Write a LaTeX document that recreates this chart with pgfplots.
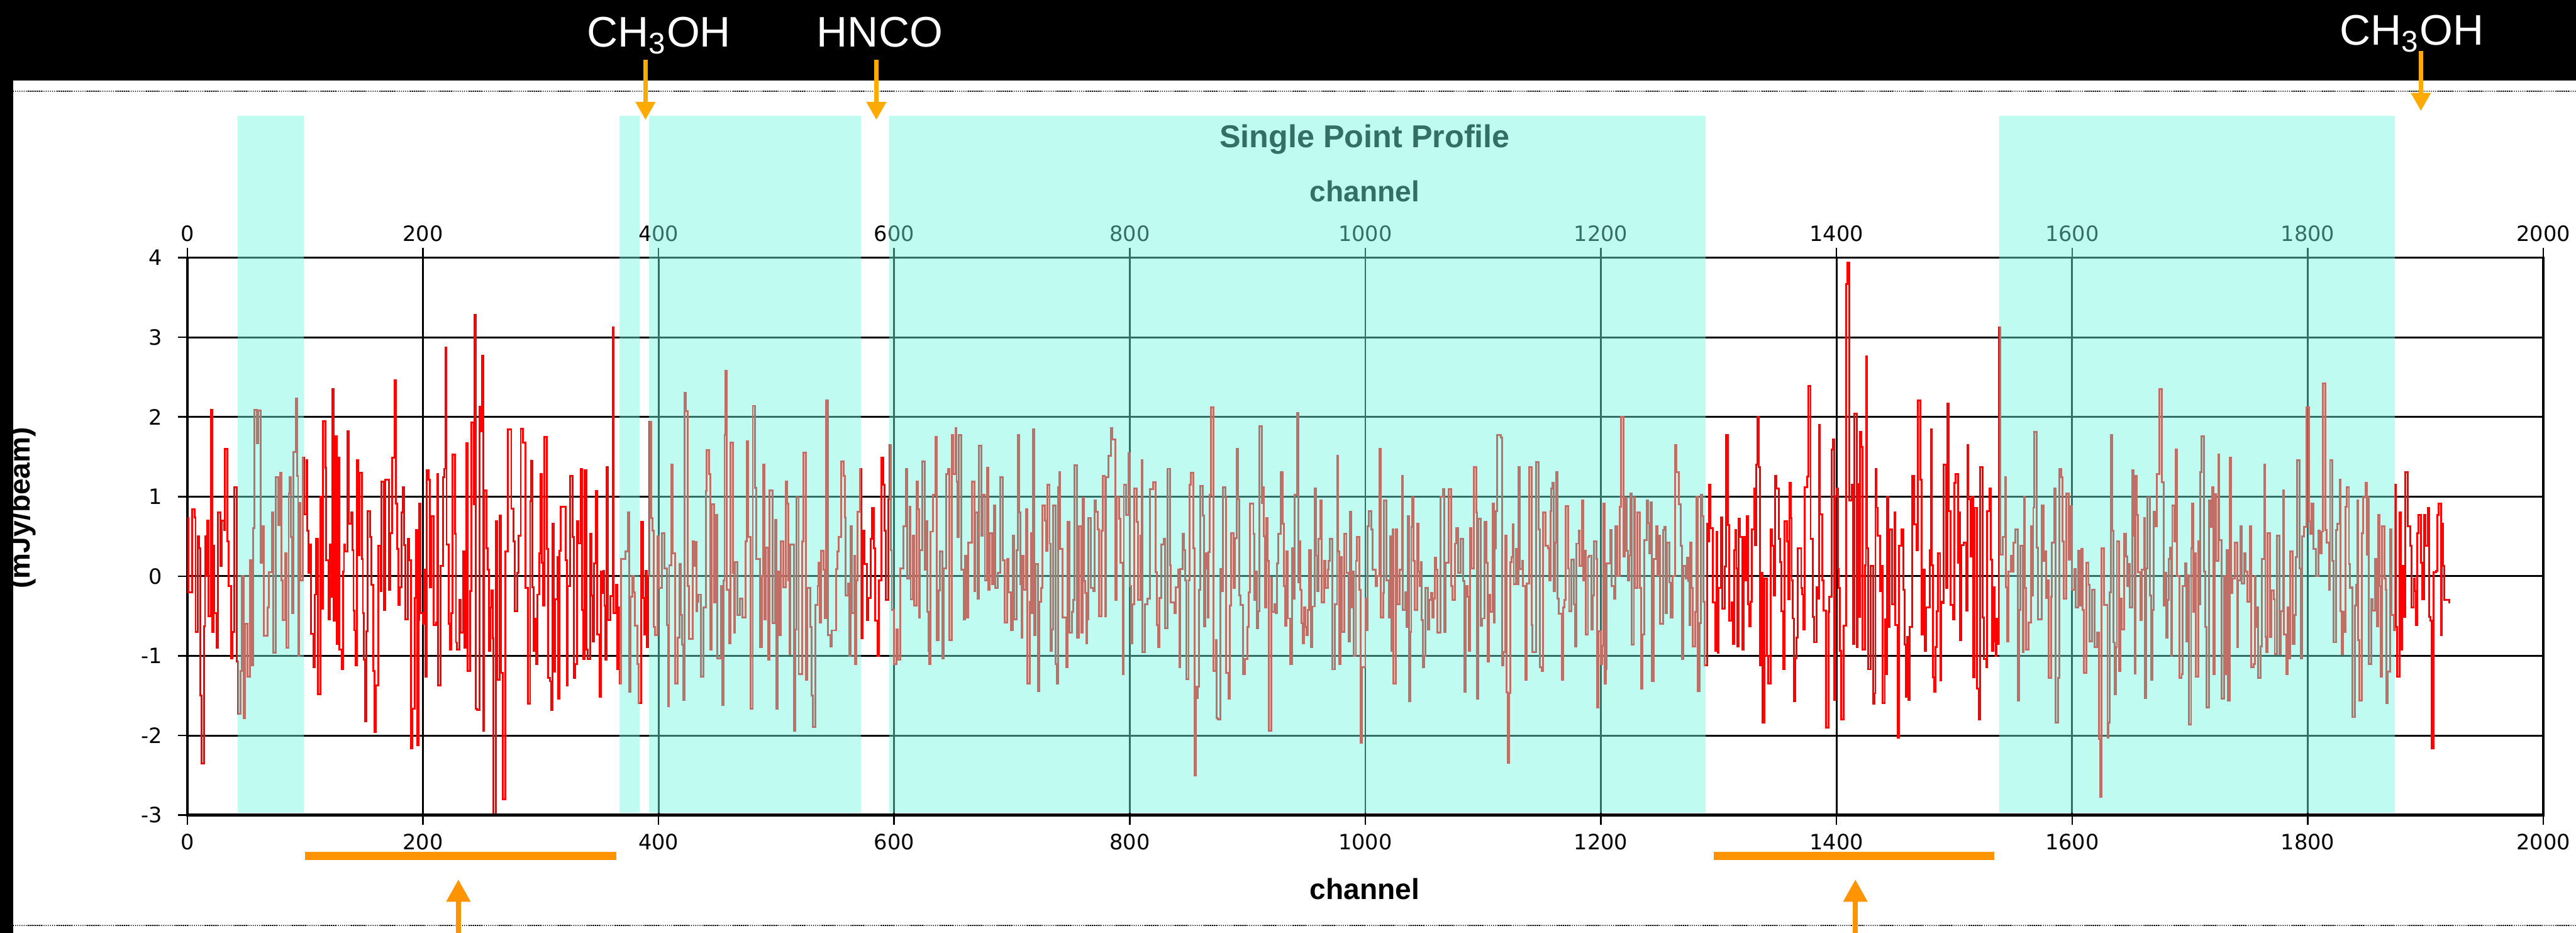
\documentclass[border=0pt]{standalone}
\usepackage{fontspec}
\setmainfont{DejaVu Sans}
\newfontfamily\lib{Liberation Sans}
\usepackage{pgfplots}
\pgfplotsset{compat=1.18}
\usetikzlibrary{arrows.meta}
\definecolor{ovl}{RGB}{115,248,226}
\definecolor{amber}{RGB}{255,170,0}
\definecolor{orng}{RGB}{255,148,0}
\begin{document}
\begin{tikzpicture}[x=1pt,y=1pt]
\useasboundingbox (0,0) rectangle (976.2,353.4);
\fill[white] (0,0) rectangle (976.2,353.4);
\begin{axis}[
  at={(71pt,44.6pt)}, anchor=south west, scale only axis,
  width=892.8pt, height=211.2pt,
  xmin=0, xmax=2000, ymin=-3, ymax=4,
  xtick={0,200,...,2000},
  xticklabels={0,200,400,600,800,1000,1200,1400,1600,1800,2000},
  ytick={-3,-2,...,4},
  yticklabels={-3,-2,-1,0,1,2,3,4},
  xtick pos=both, ytick pos=left,
  tick align=outside, major tick length=3.6pt,
  every tick/.style={black, line width=0.6pt},
  grid=major, major grid style={black, line width=0.7pt},
  axis line style={black, line width=0.9pt},
  tick label style={font=\fontsize{8}{9.6}\selectfont, text=black},
  yticklabel style={xshift=-2.5pt},
]
\addplot[const plot, red, line width=0.7pt] coordinates {
(0,0.73)(1,-0.2)(4,0.84)(6,0.74)(7,-0.7)(9,0.5)(10,0.35)(11,-1.5)(12,-2.35)(14,-0.63)(15,0.5)(16,0)(17,0.7)(18,-0.5)(20,2.09)(21,-0.7)(22,0.38)(23,-0.46)(25,-0.9)(26,0.8)(28,0.13)(29,0.7)(31,0.58)(32,1.6)(34,0.44)(35,-0.12)(37,-1.03)(38,-0.7)(40,1.12)(42,-1.07)(43,-1.73)(45,-1.19)(46,0)(48,-1.78)(49,-0.6)(51,-1.26)(53,0.2)(54,-1.12)(56,0.6)(57,2.09)(59,1.67)(60,2.08)(62,0.17)(64,0.63)(65,-0.75)(68,-0.39)(69,0.05)(72,0.8)(73,-0.96)(75,1.24)(77,0.64)(79,1.3)(80,-0.05)(81,-0.55)(83,0.29)(84,-0.9)(86,1.04)(87,1.24)(88,0.49)(89,-0.46)(90,1.56)(92,2.23)(93,1.26)(94,-1)(95,0.92)(96,-0.05)(98,1.49)(99,0.78)
(101,1.46)(102,0.57)(103,0.04)(104,0.4)(105,-0.72)(107,-1.14)(108,-0.23)(109,0.47)(111,-1.48)(113,1)(114,-0.41)(115,1.95)(117,1.36)(118,0.2)(120,-0.54)(121,0.4)(122,-0.26)(123,2.35)(124,-0.56)(126,1.76)(127,-0.85)(128,1.49)(129,-0.92)(131,-1.17)(132,0.06)(133,0.4)(134,0.31)(136,1.82)(137,0.66)(139,0.8)(140,0.33)(141,-0.43)(142,-0.68)(143,-1.12)(144,1.46)(145,0.26)(146,1.3)(148,0.22)(149,-0.46)(150,-1.05)(151,-1.82)(152,-0.69)(153,0.82)(155,0.49)(156,-0.11)(158,-1.19)(159,-1.96)(160,-1.37)(162,0.38)(164,-0.19)(165,1.19)(167,-0.42)(168,1.21)(171,-0.17)(172,0.54)(174,1.49)(176,2.46)(177,0.91)(178,0.34)(179,-0.36)(180,-0.14)(182,0.8)(183,1.12)(184,0.39)(185,-0.54)(187,0.47)(188,0.2)(190,-2.16)(191,-1.66)(193,-0.27)(194,0.58)(195,-2.12)(196,-0.55)(197,0.91)(198,-0.46)
(200,-0.6)(201,0.08)(202,-1.26)(203,1.33)(205,1.21)(206,-0.14)(207,0.75)(209,-0.61)(211,-0.58)(212,1.28)(213,-1.37)(215,0.13)(217,1.24)(218,1.35)(219,2.87)(220,0.4)(222,-0.6)(223,-0.92)(224,-0.46)(225,1.53)(227,0.53)(228,-0.83)(229,-0.92)(231,-0.3)(232,-0.71)(234,0.31)(235,-0.9)(237,1.67)(238,-1.19)(240,-0.19)(241,1.93)(243,0.9)(244,3.28)(245,-1.66)(246,-1.68)(248,2.13)(249,1.82)(250,2.77)(251,-1.94)(252,1.08)(254,0.35)(255,0.08)(256,-0.94)(257,-0.39)(258,-0.18)(259,-0.78)(260,-3)(262,0.69)(263,-1.3)(265,0.76)(266,-1.21)(268,-2.8)(270,0.31)(272,1.84)(275,0.85)(277,0.44)(278,-0.44)(280,0.04)(281,0.51)(283,1.85)
(285,1.68)(287,-0.15)(289,-1.6)(291,0.94)(292,1.45)(293,-0.14)(294,-0.94)(295,-0.53)(296,-1.1)(297,-0.23)(299,0.29)(300,1.28)(301,0.17)(302,-0.37)(303,1.75)(305,0.34)(306,-1.28)(308,-1.32)(309,-1.68)(310,0.66)(311,-1.2)(312,-0.29)(314,0.24)(315,-1.54)(316,0.32)(317,0.87)(321,0.2)(322,-1.37)(323,-0.12)(325,1.26)(327,0.49)(328,-1.28)(329,-1.1)(331,0.69)(332,0.41)(334,1.35)(335,-0.42)(336,-1.04)(337,1.33)(339,-0.92)(340,-1.04)(342,0.53)(343,-0.24)(344,-0.82)(345,0.16)(347,1.07)(348,-0.73)(350,-1.51)(351,0.06)(352,-0.21)(353,0.07)(354,-0.37)(355,-1.05)(356,1.37)(357,-0.55)(359,-0.25)(361,3.12)(362,-0.46)(364,-0.11)(365,-1.17)(366,-0.39)(367,-1.35)(368,0.22)(372,0.31)(374,0.8)(375,-1.45)(376,-0.26)(378,0)(379,-0.2)(380,-0.62)(382,-1.1)(383,-1.59)(385,0.68)(387,-0.27)(388,-0.73)(389,0.07)(390,-0.89)(391,0)(392,1.94)(394,0.73)(395,0.57)(396,-0.64)(397,-0.74)(399,0.5)
(400,-0.15)(403,0.54)(405,0.1)(407,-0.61)(408,-1.63)(409,0.14)(411,1.4)(412,0.29)(414,-1.35)(416,-0.77)(418,0.15)(419,-0.49)(420,-0.86)(421,-1.55)(422,2.3)(423,2.07)(425,-0.12)(426,-0.79)(429,0.44)(430,0.13)(431,0.43)(432,-0.44)(433,-0.32)(434,-0.23)(436,-1.26)(438,-0.39)(440,1.07)(441,1.58)(443,1.28)(444,-0.92)(445,0.9)(447,-0.33)(448,0.77)(450,-1.03)(453,-0.12)(454,-1.62)(455,-0.05)(456,1.77)(457,2.58)(458,-0.17)(460,-0.84)(461,1.68)(463,0.04)(464,-0.71)(465,0.18)(467,-0.49)(469,-0.28)(471,-0.52)(474,0.44)(475,1.69)(476,0.49)(478,-1.66)(480,2.14)(482,1.11)(483,0.22)(486,-0.89)(488,0)(489,1.4)(490,-0.54)(491,0.36)(493,-1.05)(494,1.08)(497,-0.59)(499,0.71)(500,-1.66)(501,0.06)(502,-0.74)(504,0.44)(506,-0.14)(508,1.19)(509,0.91)(510,-0.05)(511,-0.98)(512,0.4)(515,-1.94)(516,-0.67)(517,0.99)(519,-1.23)(522,0.44)(523,1.55)(525,-1.3)(526,-0.15)(529,-0.64)(530,-1.5)(531,-1.89)(533,-0.36)(535,-0.12)(536,0.17)(537,-0.58)(538,0.32)(540,0.08)(541,-0.53)(542,2.21)(544,-0.74)(546,-0.88)(547,-0.68)(551,0.09)(552,0.31)(553,0.49)(555,1.44)(557,1.26)(558,0.74)(559,-0.24)(561,-0.09)(562,-1)(563,0.63)(564,-0.46)(566,0.26)(567,-1.1)(568,-0.05)(569,0.81)(571,1.35)
(572,-0.78)(573,0.57)(575,0.15)(577,-0.55)(578,-0.27)(580,0.47)(581,0.86)(583,0.35)(584,-0.56)(586,-1)(587,-0.05)(589,1.49)(591,1.15)(592,0.57)(593,-0.3)(595,0.97)(596,1.65)(597,0.33)(598,-0.42)(600,-1.1)(602,-0.67)(603,-1.05)(605,0.1)(608,0.63)(610,1.35)(611,-0.03)(613,0.87)(614,-0.29)(616,0.51)(617,-0.37)(619,1.19)(620,0.84)(621,-0.52)(622,0.33)(624,1.44)(626,0.08)(627,0.69)(628,-0.45)(629,-0.94)(630,-1.1)(631,0.56)(633,1.02)(635,1.75)(636,-0.8)(638,-0.18)(639,0.31)(641,-1.03)(642,0.1)(644,1.28)(646,1.35)(647,-0.8)(649,1.77)(650,1.28)(652,1.86)(653,1.19)(654,0.49)(655,1.77)(657,0.08)(659,-0.54)(660,0.26)(662,-0.52)(663,0.42)(666,1.19)(668,-0.19)(669,0.8)(671,-0.28)(672,1.64)(674,0.51)(675,1.02)(677,-0.05)(679,1.36)(680,-0.17)(681,0.54)(683,-0.1)(685,0.89)(686,-0.15)(688,0.04)(690,1.24)(692,0.2)(694,-0.58)(696,0.22)(697,-0.2)(699,-0.68)
(701,0.51)(702,-0.54)(704,0.33)(705,1.77)(706,0.8)(707,-0.1)(708,-0.77)(709,0.26)(710,-0.17)(712,0.84)(713,-1.35)(715,-0.32)(716,0.54)(717,-0.46)(718,1.84)(719,-0.74)(720,0.15)(722,-1.44)(723,-0.32)(725,-0.15)(726,0.89)(728,0.7)(729,0.32)(730,1.15)(732,0.41)(733,-0.94)(734,-0.67)(735,0.89)(737,-1.1)(738,-1.35)(739,1.12)(740,1.31)(741,0.34)(743,-0.52)(746,-1.14)(747,0.68)(749,-0.71)(751,-0.45)(752,-0.3)(753,1.39)(755,-0.77)(757,0.63)(759,-0.71)(760,0.98)(761,-0.06)(762,-0.21)(763,-0.84)(764,-0.54)(765,0.73)(767,-0.15)(769,-0.19)(770,0.95)(771,0.81)(773,0.59)(774,-0.5)(776,0.57)(777,1.26)(779,-0.5)(780,1.24)(782,1.51)(784,1.86)(785,1.72)(788,-0.3)(789,0.99)(791,0.72)(792,0.17)(794,-1.23)(795,1.15)(797,0.77)(799,1.54)
(800,-0.12)(801,-0.84)(802,-0.35)(804,1.1)(806,0.68)(807,-0.3)(809,0.51)(810,1.46)(811,-0.95)(813,-0.35)(815,-0.28)(817,1.09)(820,1.18)(822,0.05)(823,-0.61)(824,-0.89)(825,-0.27)(827,0.4)(829,0.47)(830,-0.65)(832,1.35)(834,0.14)(835,-0.33)(838,-0.46)(839,-0.14)(841,0.08)(842,-1.14)(843,0.09)(845,0.53)(846,0.33)(847,-0.05)(848,-1.29)(850,-0.05)(851,1.15)(852,1.3)(854,0.35)(855,-2.5)(856,-1.39)(857,-1.53)
(858,-1.39)(859,-0.17)(860,1.13)(862,0.76)(863,-0.63)(864,0.29)(865,0.1)(866,-0.52)(867,0.3)(868,1.02)(869,2.12)(871,-1.19)(873,-0.8)(874,-1.78)(875,-1.8)(877,0.09)(878,-0.19)(879,1.12)(881,0.99)(882,-1.21)(884,-1.54)(885,-0.37)(886,0.54)(888,-0.15)(889,0.48)(891,1.6)(892,0.97)(893,-0.24)(894,-0.36)(896,-1.23)(898,-1.04)(900,-0.64)(901,-0.2)(902,0.91)(905,0.53)(906,-0.3)(907,0.06)(908,-0.65)(909,-0.44)(910,1.88)(912,0.92)(913,1.12)(914,0.5)(915,-0.39)(916,0.73)(917,0.19)(918,-1.94)(920,-0.02)(921,-0.45)(923,-0.35)(924,-0.46)(925,0.16)(926,0.53)(928,1.31)(930,0.66)(931,-0.12)(932,-0.62)(933,0.31)(934,-0.53)(936,-1.1)(938,0.35)(939,-0.28)(940,1.02)(942,2.05)(943,-0.08)(944,0.44)(945,-0.17)(946,-0.59)(947,-0.84)(948,-0.39)(949,-0.64)(950,-0.74)(951,-0.42)(952,0.33)(954,-0.89)(955,-0.38)(957,1.1)(958,0.26)(959,-0.19)(960,0.47)(962,0.95)(963,-0.33)(965,0.19)(966,-0.15)(968,0.08)(969,0.19)(970,0.47)(972,-1.17)(974,-0.35)(976,1.51)(977,0.31)(978,-1.1)(979,0.24)(980,-0.7)(982,0.53)(984,0.04)(986,-0.82)(987,0.81)(988,-0.39)(989,0.06)(990,-1)(992,0.19)(993,0.49)(995,-0.17)(996,-2.09)(997,-1.14)
(1000,-0.28)(1001,-0.68)(1002,0.63)(1003,0.82)(1005,0.59)(1006,0.08)(1009,-0.12)(1010,0)(1012,1.6)(1013,-0.52)(1015,-0.21)(1016,0.95)(1018,-0.05)(1020,-0.52)(1021,0.5)(1022,-0.94)(1023,0.59)(1024,-1.35)(1026,0.59)(1027,-0.35)(1029,0.08)(1031,1.26)(1032,-0.42)(1034,-0.2)(1035,-0.64)(1036,0.75)(1037,-1.57)(1038,-0.7)(1039,0.62)(1040,0.99)(1041,0.19)(1042,-0.42)(1044,0.66)(1045,0.06)(1046,-0.12)(1047,0.18)(1048,-0.55)(1049,-1.14)(1050,-1)(1051,-0.15)(1053,-0.67)(1054,-0.3)(1056,-0.21)(1057,-0.52)(1058,-0.28)(1059,0.23)(1060,0.08)(1061,-0.71)(1064,1)(1066,1.09)(1067,-0.7)(1068,0.17)(1071,1.09)(1073,-0.12)(1074,-0.3)(1076,0.41)(1077,0.6)(1079,0.04)(1081,0.47)(1083,-0.06)(1084,-1.45)(1085,-0.12)(1087,-0.26)(1088,-0.94)(1089,0.6)(1090,0.1)(1092,1.37)(1094,0.8)(1095,-1.54)(1096,0.72)(1098,-0.62)(1099,-0.53)
(1101,0.68)(1103,0.17)(1104,-1.07)(1105,-0.23)(1106,-0.45)(1108,0.91)(1109,-0.58)(1110,0.35)(1111,0.82)(1112,1.77)(1115,1.74)(1116,-1.12)(1117,-0.95)(1119,0.51)(1120,-1.46)(1121,-2.34)(1122,-1.47)(1123,0.18)(1124,0.24)(1125,0.65)(1126,-0.1)(1128,0.34)(1129,-0.1)(1130,1.37)(1131,0.09)(1133,0.19)(1134,-0.12)(1136,-1.3)(1137,-0.09)(1139,1.37)(1141,-0.61)(1142,-0.95)
(1144,-0.95)(1145,1.43)(1147,0.59)(1148,-1.14)(1150,-1.19)(1151,0.8)(1153,0.38)(1155,0.35)(1156,-0.05)(1157,0.82)(1158,1.1)(1159,1.17)(1160,-0.19)(1161,0.42)(1162,1.31)(1163,-0.28)(1164,-0.47)(1167,-1.3)(1168,-0.39)(1169,-0.3)(1170,0.88)(1172,0.1)(1173,-0.44)(1175,0.21)(1177,-0.35)(1178,-0.88)(1179,0.41)(1181,0.57)(1182,0.13)(1184,0.95)(1185,-0.05)(1186,0.32)(1187,-0.73)(1189,0.24)(1190,0.26)(1192,-0.67)(1193,-0.24)(1194,0.44)(1196,0.22)(1197,-1.65)(1198,-0.69)
(1200,-1.1)(1201,-0.87)(1202,0.91)(1203,-1.35)(1204,-1.17)(1205,0.16)(1208,0.58)(1209,-0.12)(1211,-0.28)(1212,0.63)(1214,0)(1216,0.87)(1217,2)(1219,0.25)(1220,0.98)(1222,0.32)(1223,-0.05)(1224,0.26)(1225,1.04)(1226,-0.86)(1228,0.99)(1229,-0.15)(1231,0.8)(1233,-0.15)(1234,-1.41)(1235,-0.73)(1237,0.45)(1239,0.95)(1240,0.67)(1241,0.29)(1242,0.93)(1243,-1.32)(1245,0.22)(1247,0.63)(1248,0.01)(1249,0.51)(1250,-0.6)(1253,0.58)(1254,0.62)(1255,-0.46)(1256,0.42)(1258,-0.08)(1259,-0.52)(1261,0)(1263,1.65)(1264,1.31)(1266,0.9)(1268,0.38)(1269,-1.04)(1270,0.13)(1272,-0.03)(1273,0.23)(1274,-0.06)(1275,-0.61)(1276,0.42)(1277,-0.15)(1278,-0.88)(1280,-0.45)(1281,1)(1282,-1.44)(1284,-0.59)(1285,1.02)(1286,0.75)(1287,-0.32)(1288,-1.12)(1290,0.66)(1291,0.44)(1292,1.15)(1293,0.6)(1295,-0.33)(1297,-0.94)(1298,0.56)(1299,-0.96)
(1300,-0.15)(1302,0.74)(1303,-0.41)(1305,0.12)(1306,1.77)(1308,0.64)(1309,-0.56)(1311,-0.33)(1312,-0.85)(1313,0.33)(1314,0.58)(1315,0.1)(1316,-0.88)(1317,0.72)(1318,0.49)(1320,-0.92)(1321,0.49)(1322,-0.05)(1324,0.75)(1325,-0.35)(1326,-0.63)(1327,-0.32)(1328,0.59)(1330,1.1)(1331,0.39)(1332,1.4)(1333,2)(1334,1.37)(1335,-1.12)(1336,0.04)(1337,-1.84)(1339,-0.03)(1341,-1)(1342,-1.35)(1344,0.59)(1345,0.38)(1347,-0.24)(1348,1.26)(1349,1.1)(1351,0.47)(1352,0.18)(1353,-0.44)(1355,-1.17)(1356,0.69)(1358,0.44)(1359,-0.29)(1360,1.17)(1361,0.73)(1362,-0.05)(1363,-0.53)(1364,-1.57)(1365,-1.03)(1366,-0.77)(1367,0.35)(1370,-0.15)(1371,-0.23)(1372,-0.67)(1373,1.12)(1375,1.25)(1376,2.39)(1378,0.47)(1380,-0.51)(1381,-0.83)(1383,-0.14)(1384,-0.28)(1385,1.9)(1386,0.78)(1388,-0.05)(1389,-0.43)(1391,-1.9)(1393,-0.45)(1394,-0.26)(1396,1.59)(1397,1.72)(1398,-1.55)(1399,1.01)
(1400,1.1)(1401,0.09)(1402,-0.15)(1403,-0.94)(1404,-1.8)(1406,-0.62)(1408,3.67)(1409,3.94)(1411,0.95)(1413,1.15)(1414,-0.85)(1415,2.04)(1417,-0.89)(1418,1.16)(1419,-0.51)(1420,1.81)(1421,1.62)(1422,-0.92)(1424,0.14)(1425,2.76)(1426,0.35)(1427,-1.17)(1429,0.13)(1431,-1.6)
(1432,-1.47)(1433,1.35)(1434,0.86)(1435,0.51)(1437,-0.19)(1438,0.13)(1439,-1.59)(1441,-0.54)(1442,-1.23)(1443,1)(1444,-0.64)(1445,0.59)(1447,-0.35)(1449,0.8)(1450,-0.61)(1452,-2.03)(1453,0.38)(1455,0.59)(1457,-0.17)(1458,-0.86)(1459,-1.51)(1460,-0.76)(1461,-1.55)(1462,-0.64)(1464,1.26)(1466,0.65)(1468,0.33)(1469,2.21)(1471,1.21)(1472,-0.73)(1474,0.08)(1475,-0.94)(1476,-0.39)(1479,0.33)(1480,1.84)(1481,0.14)(1482,-1.27)(1483,-1.45)(1484,-0.89)(1485,-0.44)(1486,0.29)(1488,-1.31)(1489,-0.32)(1490,-0.34)(1491,1.4)(1493,-0.15)(1494,2.17)(1495,0.82)(1497,-0.36)(1499,-0.54)
(1500,1.17)(1501,1.28)(1503,0.17)(1504,0.8)(1505,-0.8)(1506,0.39)(1508,0.42)(1510,-0.43)(1511,1.65)(1512,0.97)(1514,0.25)(1515,1)(1516,-1.27)(1517,0.86)(1519,-1.41)(1521,-1.8)(1522,1.37)(1524,-0.52)(1525,-1.04)(1527,-1.14)(1528,0.82)(1530,1.1)(1531,0.21)(1532,-0.94)(1533,-0.14)(1534,-0.82)(1535,-1)(1536,-0.53)(1537,-0.85)(1538,3.12)(1539,0.27)(1541,0.49)(1543,1.24)(1544,-0.14)(1545,-0.82)(1546,0.06)(1548,0.26)(1549,0.06)(1550,0.42)(1552,0.59)(1554,-1.56)(1555,-0.42)(1556,0.38)(1558,-0.95)(1559,1)(1560,-0.15)(1561,-0.92)(1563,-0.58)(1565,0.63)(1566,-0.24)(1567,0.86)(1568,1.81)(1570,0.36)(1571,-0.54)(1574,0.89)(1576,0.19)(1577,0.31)(1578,-0.27)(1579,-0.05)(1580,-1.28)(1582,-0.26)(1583,0.42)(1585,1.1)(1586,-1.84)(1588,-1.28)(1589,1.35)(1591,1.24)(1592,0.44)(1593,-0.28)(1595,1.04)(1597,0.21)(1598,0.88)
(1600,-0.17)(1602,0.09)(1603,-0.39)(1605,0.32)(1606,-0.37)(1608,0.34)(1609,-0.42)(1610,-1.21)(1612,0.17)(1614,-0.11)(1615,-0.82)(1617,-0.17)(1619,-0.89)(1621,-0.71)(1623,-2.04)(1624,-2.77)(1625,0.35)(1627,-0.36)(1630,-2.03)(1631,-1.84)(1632,-0.2)(1633,1.77)(1634,0.57)(1635,-0.83)(1636,-1.48)(1637,-0.89)(1638,0.44)(1640,-1.19)(1641,-0.28)(1642,-0.67)(1644,0.53)(1646,0.25)(1647,-0.12)(1648,0.15)(1649,-0.39)(1651,1.33)(1652,0.51)(1653,-1.22)(1654,1.26)(1655,0.77)(1656,0.05)(1658,-0.55)(1659,0.08)(1661,0.73)(1662,-1.53)(1663,0.1)(1664,0.99)(1666,-0.24)(1667,-1.3)(1668,-0.42)(1669,0.81)(1671,0.63)(1672,1.28)(1674,2.35)(1676,1.18)(1678,-0.37)(1679,0.04)(1680,-0.77)(1681,-0.3)(1682,0.22)(1683,0.36)(1684,-1)(1685,0.89)(1687,0.44)(1688,1.59)(1689,0)(1691,-1.28)(1693,-1.23)(1694,-0.12)(1696,0.16)(1697,-0.82)(1698,0.01)(1699,-1.86)
(1701,0.35)(1702,0.91)(1703,-0.45)(1704,0.29)(1705,-1.26)(1707,0.44)(1708,-0.35)(1709,1.31)(1710,1.76)(1712,0.06)(1713,-0.64)(1714,-1.65)(1716,0.95)
(1718,0.62)(1719,1.12)(1720,-1.23)(1721,1.03)(1722,0.19)(1724,1.53)(1725,0.45)(1727,-1.54)(1729,0)(1730,-1.23)(1731,0.33)(1732,-1.56)(1734,1.49)(1735,-0.21)(1736,-0.03)(1738,0.42)(1740,-0.89)(1741,-0.05)(1743,0.63)(1744,-0.09)(1746,0.29)(1747,0.06)(1749,-0.32)(1751,0.63)(1752,-1.14)(1754,-1.1)(1755,0)(1756,-0.64)(1757,-0.39)(1758,-1.28)(1760,-0.88)(1761,0.22)(1763,1.4)(1764,-0.76)(1765,-0.95)(1766,0.54)(1768,-0.76)(1769,-0.18)(1771,-0.29)(1772,-0.98)(1774,0.51)(1776,-0.98)(1777,-0.44)(1779,1.08)(1780,-0.73)(1782,-1.23)(1783,-0.39)(1784,-1.03)(1785,0.31)(1787,-0.85)(1789,-0.49)(1790,0.24)(1791,1.46)(1793,0.1)(1794,-1.03)(1795,0.5)(1797,0.62)(1799,2.12)
(1801,0.69)(1802,0.53)(1803,0.91)(1805,0.34)(1807,0)(1809,0.57)(1810,0.29)(1812,0.56)(1813,2.42)(1815,0.58)(1816,0.42)(1818,-0.17)(1819,1.46)(1821,0.19)(1822,-0.83)(1824,0.58)(1825,0.66)(1827,1.21)(1828,-0.44)(1829,-0.98)(1830,-0.45)(1831,-0.7)(1832,0.87)(1833,1.12)(1835,0.15)(1836,-0.15)(1837,-0.14)(1838,-1.77)(1840,-0.37)(1841,-0.11)(1842,0.95)(1843,-0.8)(1844,-1.56)(1846,0.54)(1847,0.99)(1849,1.17)(1850,0.27)(1851,0.99)(1852,-1.1)(1854,-0.29)(1855,-0.43)(1857,0.22)(1859,-0.63)(1860,0.77)(1861,-0.12)(1862,-1.26)(1863,0.63)(1865,-0.03)(1866,-0.17)(1867,-1.59)(1868,-1.2)(1870,0.59)(1871,-0.49)(1873,-0.68)(1874,1.15)(1875,-0.64)(1876,-1.26)(1878,0.8)(1879,-0.92)(1880,0.13)(1881,-0.51)(1883,1.31)(1885,0.63)(1887,0.38)(1888,-0.39)(1890,-0.03)(1891,-0.19)(1892,-0.61)(1893,0.54)(1894,0.77)(1896,0.17)(1897,-0.29)(1899,0.77)
(1900,0.38)(1902,0.86)(1903,-0.51)(1904,-0.56)(1905,-2.16)(1907,0.05)(1909,0.07)(1910,0.77)(1911,0.91)(1913,-0.74)(1914,0.66)(1915,0.13)(1916,-0.3)(1918,-0.3)(1920,-0.33)(1921,-0.33)
};
\draw[black, line width=1.3pt] (axis cs:0,-3) -- (axis cs:2000,-3);
\coordinate (a1) at (axis cs:43,-2.97);   \coordinate (b1) at (axis cs:98.6,5.78);
\coordinate (a2) at (axis cs:367,-2.97);  \coordinate (b2) at (axis cs:384,5.78);
\coordinate (a3) at (axis cs:392,-2.97);  \coordinate (b3) at (axis cs:572,5.78);
\coordinate (a4) at (axis cs:596,-2.97);  \coordinate (b4) at (axis cs:1289,5.78);
\coordinate (a5) at (axis cs:1538,-2.97); \coordinate (b5) at (axis cs:1874,5.78);
\end{axis}
% top tick labels
\begin{axis}[
  at={(71pt,44.6pt)}, anchor=south west, scale only axis,
  width=892.8pt, height=211.2pt,
  xmin=0, xmax=2000, ymin=-3, ymax=4,
  axis x line*=top, hide y axis,
  axis line style={draw=none}, major tick length=0pt,
  xtick={0,200,...,2000},
  xticklabels={0,200,400,600,800,1000,1200,1400,1600,1800,2000},
  tick label style={font=\fontsize{8}{9.6}\selectfont, text=black},
  xticklabel style={yshift=2.5pt},
]
\addplot[draw=none] coordinates {(0,0)(2000,0)};
\end{axis}
% titles
\node[font=\lib\bfseries\fontsize{12}{14}\selectfont, anchor=base] at (517.2,297.4) {Single Point Profile};
\node[font=\lib\bfseries\fontsize{11}{13}\selectfont, anchor=base] at (517.2,277) {channel};
\node[font=\lib\bfseries\fontsize{11}{13}\selectfont, anchor=base] at (517.2,12.8) {channel};
\node[font=\lib\bfseries\fontsize{11}{13}\selectfont, anchor=base, rotate=90] at (11.4,161) {(mJy/beam)};
% overlays
\foreach \i in {1,...,5} {\fill[ovl, opacity=0.45] (a\i) rectangle (b\i);}
% frame
\fill[black] (0,322.8) rectangle (976.2,353.4);
\fill[black] (0,0) rectangle (5,353.4);
\draw[black, line width=0.6pt, dash pattern=on 0.35pt off 0.35pt] (5,318.8) -- (976.2,318.8);
\draw[black, line width=0.6pt, dash pattern=on 0.35pt off 0.35pt] (5,2.8) -- (976.2,2.8);
% labels
\node[font=\lib\fontsize{16.2}{19}\selectfont, text=white, anchor=base] at (249.7,335.6) {CH\textsubscript{3}OH};
\node[font=\lib\fontsize{16.2}{19}\selectfont, text=white, anchor=base] at (333.4,335.6) {HNCO};
\node[font=\lib\fontsize{16.2}{19}\selectfont, text=white, anchor=base] at (914,336.4) {CH\textsubscript{3}OH};
\draw[amber, line width=1.6pt, -{Triangle[width=7.2pt,length=6.8pt]}] (244.6,330.8) -- (244.6,308);
\draw[amber, line width=1.6pt, -{Triangle[width=7.2pt,length=6.8pt]}] (332.1,330.8) -- (332.1,308);
\draw[amber, line width=1.6pt, -{Triangle[width=7.2pt,length=6.8pt]}] (917.4,334.2) -- (917.4,311.4);
\fill[orng] (115.6,27.6) rectangle (233.5,30.8);
\fill[orng] (649.5,27.6) rectangle (755.8,30.8);
\draw[orng, line width=1.8pt, -{Triangle[width=8.8pt,length=8.4pt]}] (173.7,0) -- (173.7,20.2);
\draw[orng, line width=1.8pt, -{Triangle[width=8.8pt,length=8.4pt]}] (703.1,0) -- (703.1,20.2);
\end{tikzpicture}
\end{document}
